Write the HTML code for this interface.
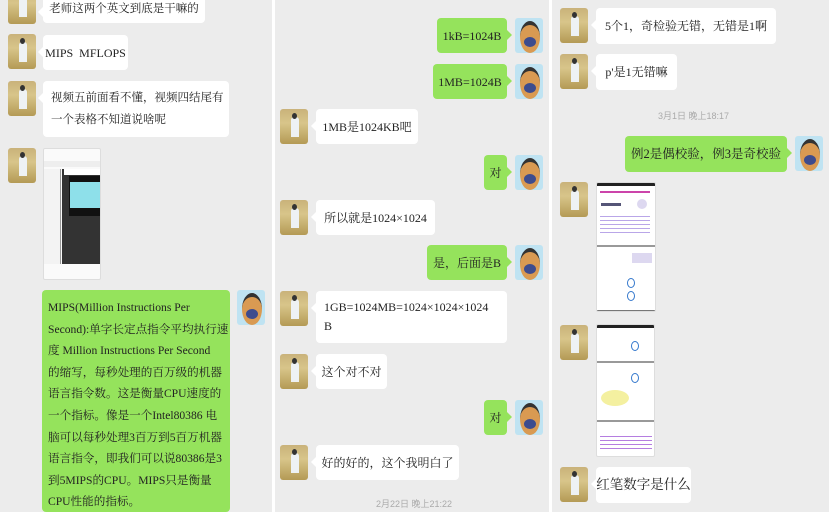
<!DOCTYPE html>
<html><head><meta charset="utf-8">
<style>
*{margin:0;padding:0;box-sizing:border-box}
html,body{width:829px;height:512px;overflow:hidden}
body{background:#fff;position:relative;font-family:"Liberation Serif","Noto Serif CJK SC",serif;color:#222}
.panel{position:absolute;top:0;height:512px;background:#ececec}
.b{position:absolute;background:#fff;border-radius:4px;font-size:12px;line-height:22px;padding:0 4px;display:flex;align-items:center;justify-content:center;white-space:nowrap}
.b.g{background:#95e35c}
.b.l::before{content:"";position:absolute;left:-5px;top:12px;border:5px solid transparent;border-left:0;border-right-color:#fff}
.b.g::after{content:"";position:absolute;right:-5px;top:12px;border:5px solid transparent;border-right:0;border-left-color:#95e35c}
.av{position:absolute;width:28px;height:35px;border-radius:3px;background:linear-gradient(180deg,#c9b27a 0%,#d8c58a 40%,#b49a55 100%);overflow:hidden}
.av::before{content:"";position:absolute;left:11px;top:8px;width:8px;height:20px;background:#eef2f4;border-radius:3px 3px 0 0}
.av::after{content:"";position:absolute;left:12px;top:4px;width:5px;height:6px;background:#333;border-radius:50%}
.me{position:absolute;width:28px;height:35px;border-radius:3px;background:#bfe3f2;overflow:hidden}
.me::before{content:"";position:absolute;left:5px;top:3px;width:20px;height:28px;background:#d99a52;border-radius:50%;border-top:4px solid #333}
.me::after{content:"";position:absolute;left:9px;top:19px;width:12px;height:10px;background:#3d4c8e;border-radius:50%}
.ts{position:absolute;font-size:9px;color:#aaa;font-family:"Liberation Sans","Noto Sans CJK SC",sans-serif}
.img{position:absolute;background:#fff;border:1px solid #ddd;border-radius:2px;overflow:hidden}
.ml{display:block;text-align:left;padding:5px 8px}
</style></head><body>
<div class="panel" style="left:0;width:272px"></div>
<div class="panel" style="left:275px;width:274px"></div>
<div class="panel" style="left:552px;width:277px"></div>

<!-- panel 1 -->
<div class="av" style="left:8px;top:-11px"></div>
<div class="b l" style="left:43px;top:-5px;width:162px;height:28px;font-size:11.5px">老师这两个英文到底是干嘛的</div>
<div class="av" style="left:8px;top:34px"></div>
<div class="b l" style="left:43px;top:35px;width:85px;height:35px">MIPS&nbsp; MFLOPS</div>
<div class="av" style="left:8px;top:81px"></div>
<div class="b l ml" style="left:43px;top:81px;width:186px;height:56px;font-size:11.5px;padding-top:6px">视频五前面看不懂，视频四结尾有<br>一个表格不知道说啥呢</div>
<div class="av" style="left:8px;top:148px"></div>
<div class="img" style="left:43px;top:148px;width:58px;height:132px;background:#fafafa">
 <div style="position:absolute;left:0;top:12px;width:58px;height:6px;background:#eee"></div>
 <div style="position:absolute;left:0;top:20px;width:17px;height:95px;background:#f3f3f3;border-right:1px solid #999"></div>
 <div style="position:absolute;left:18px;top:20px;width:40px;height:95px;background:#333"></div>
 <div style="position:absolute;left:25px;top:27px;width:33px;height:40px;background:#111"></div>
 <div style="position:absolute;left:26px;top:33px;width:32px;height:26px;background:#8ee0ea"></div>
 <div style="position:absolute;left:20px;top:20px;width:38px;height:6px;background:#fff"></div>
</div>
<div class="b g ml" style="left:42px;top:290px;width:188px;height:222px;font-size:11.6px;line-height:21.6px;padding:7px 6px 0 6px;overflow:hidden;text-align:justify">MIPS(Million Instructions Per<br>Second):单字长定点指令平均执行速<br>度 Million Instructions Per Second<br>的缩写，每秒处理的百万级的机器<br>语言指令数。这是衡量CPU速度的<br>一个指标。像是一个Intel80386 电<br>脑可以每秒处理3百万到5百万机器<br>语言指令，即我们可以说80386是3<br>到5MIPS的CPU。MIPS只是衡量<br>CPU性能的指标。</div>
<div class="me" style="left:237px;top:290px"></div>

<!-- panel 2 -->
<div class="b g" style="left:437px;top:18px;width:70px;height:35px">1kB=1024B</div>
<div class="me" style="left:515px;top:18px"></div>
<div class="b g" style="left:433px;top:64px;width:74px;height:35px">1MB=1024B</div>
<div class="me" style="left:515px;top:64px"></div>
<div class="av" style="left:280px;top:109px"></div>
<div class="b l" style="left:316px;top:109px;width:102px;height:35px">1MB是1024KB吧</div>
<div class="b g" style="left:484px;top:155px;width:23px;height:35px;padding:0">对</div>
<div class="me" style="left:515px;top:155px"></div>
<div class="av" style="left:280px;top:200px"></div>
<div class="b l" style="left:316px;top:200px;width:119px;height:35px">所以就是1024×1024</div>
<div class="b g" style="left:427px;top:245px;width:80px;height:35px">是，后面是B</div>
<div class="me" style="left:515px;top:245px"></div>
<div class="av" style="left:280px;top:291px"></div>
<div class="b l ml" style="left:316px;top:291px;width:191px;height:52px;line-height:19px;padding-top:7px">1GB=1024MB=1024×1024×1024<br>B</div>
<div class="av" style="left:280px;top:354px"></div>
<div class="b l" style="left:316px;top:354px;width:71px;height:35px">这个对不对</div>
<div class="b g" style="left:484px;top:400px;width:23px;height:35px;padding:0">对</div>
<div class="me" style="left:515px;top:400px"></div>
<div class="av" style="left:280px;top:445px"></div>
<div class="b l" style="left:316px;top:445px;width:143px;height:35px">好的好的，这个我明白了</div>
<div class="ts" style="left:376px;top:497px">2月22日 晚上21:22</div>

<!-- panel 3 -->
<div class="av" style="left:560px;top:8px"></div>
<div class="b l" style="left:596px;top:8px;width:180px;height:36px">5个1，奇检验无错，无错是1啊</div>
<div class="av" style="left:560px;top:54px"></div>
<div class="b l" style="left:596px;top:54px;width:81px;height:36px">p'是1无错嘛</div>
<div class="ts" style="left:658px;top:109px">3月1日 晚上18:17</div>
<div class="b g" style="left:625px;top:136px;width:162px;height:36px;font-size:12.5px">例2是偶校验，例3是奇校验</div>
<div class="me" style="left:795px;top:136px"></div>
<div class="av" style="left:560px;top:182px"></div>
<div class="img" style="left:596px;top:182px;width:60px;height:130px">
 <div style="position:absolute;left:0;top:0;width:60px;height:3px;background:#222"></div>
 <div style="position:absolute;left:3px;top:8px;width:50px;height:2px;background:#c4a"></div>
 <div style="position:absolute;left:4px;top:20px;width:20px;height:3px;background:#557"></div>
 <div style="position:absolute;left:40px;top:16px;width:10px;height:10px;border-radius:50%;background:#ddd8f0"></div>
 <div style="position:absolute;left:3px;top:30px;width:50px;height:20px;background:repeating-linear-gradient(#fff 0 3px,#b9a6e8 3px 4px)"></div>
 <div style="position:absolute;left:0;top:62px;width:60px;height:2px;background:#999"></div>
 <div style="position:absolute;left:35px;top:70px;width:20px;height:10px;background:#ddd8f0"></div>
 <div style="position:absolute;left:30px;top:95px;width:8px;height:10px;border:1px solid #37c;border-radius:50%"></div>
 <div style="position:absolute;left:30px;top:108px;width:8px;height:10px;border:1px solid #37c;border-radius:50%"></div>
 <div style="position:absolute;left:0;top:127px;width:60px;height:3px;background:#777"></div>
</div>
<div class="av" style="left:560px;top:325px"></div>
<div class="img" style="left:596px;top:324px;width:59px;height:133px">
 <div style="position:absolute;left:0;top:0;width:59px;height:3px;background:#222"></div>
 <div style="position:absolute;left:34px;top:16px;width:8px;height:10px;border:1px solid #37c;border-radius:50%"></div>
 <div style="position:absolute;left:0;top:36px;width:59px;height:2px;background:#999"></div>
 <div style="position:absolute;left:34px;top:48px;width:8px;height:10px;border:1px solid #37c;border-radius:50%"></div>
 <div style="position:absolute;left:4px;top:65px;width:28px;height:16px;border-radius:50%;background:#f4f0a0"></div>
 <div style="position:absolute;left:0;top:95px;width:59px;height:2px;background:#999"></div>
 <div style="position:absolute;left:3px;top:108px;width:52px;height:18px;background:repeating-linear-gradient(#fff 0 3px,#b57ee0 3px 4px)"></div>
</div>
<div class="av" style="left:560px;top:467px"></div>
<div class="b l" style="left:596px;top:467px;width:95px;height:36px;font-size:13.5px">红笔数字是什么</div>
</body></html>
